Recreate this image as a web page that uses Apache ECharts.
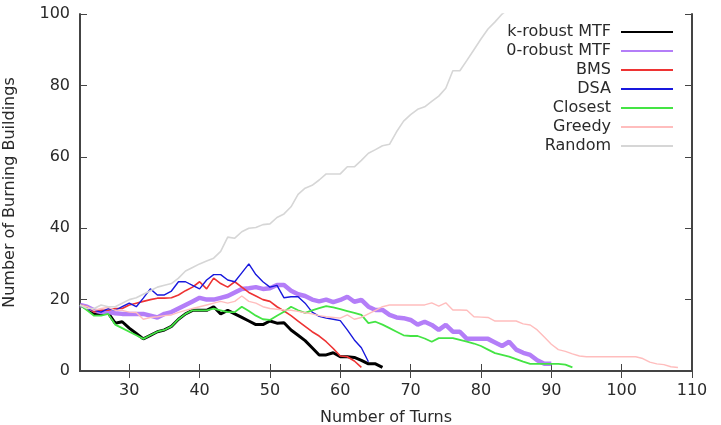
<!DOCTYPE html>
<html>
<head>
<meta charset="utf-8">
<script src="https://cdn.jsdelivr.net/npm/echarts@6/dist/echarts.min.js"></script>
<style>html,body{margin:0;padding:0;background:#fff;}#c{width:721px;height:425px;}</style>
</head>
<body>
<div id="c"></div>
<script>
const startTurn = 23;
const seriesNames = ['k-robust MTF', '0-robust MTF', 'BMS', 'DSA', 'Closest', 'Greedy', 'Random'];
const kRobust = [18.5,17.5,16,16,16.3,13.4,13.8,12,10.5,9,10,11,11.5,12.5,14.5,16,17,17,17,18,16,17,16,15,14,13,13,14,13.4,13.5,11.5,10,8.5,6.5,4.5,4.5,5.1,4,4,3.8,3,2,2,1];
const zeroRobust = [18.5,18,17,16.5,16.5,16.2,16,16,16,16,15.5,15,16,16.5,17.5,18.5,19.5,20.5,20,20,20.5,21,22,23,23.2,23.5,23,23.2,24.1,24.1,22.5,21.5,21,20,19.5,20,19.3,19.9,20.8,19.4,19.9,18,17.1,17.1,15.7,15,14.8,14.3,13,13.8,12.9,11.5,12.9,11,11,9,9,9,9,8,7,8.2,6,5.1,4.5,3,2,2];
const bms = [18.5,18,16.5,17,17,17.5,17.5,18.5,19,19.5,20,20.4,20.4,20.5,21.3,22.5,23.5,25,23,26,24.5,23.5,25,23.5,22,21,20,19.5,18,16.8,15.5,14,12.5,11,9.8,8.2,6.3,4.2,4,2.8,1];
const dsa = [18.5,17.5,17,16.5,17.5,17,18,19,18,20.4,23,21.3,21.3,22.4,25,25,24,23,25.5,27,27,25.5,25,27.5,30,27,25,23.5,24,20.5,20.8,20.8,19,16.5,15.3,14.8,14.5,14.1,11.5,8.7,6.5,2.6];
const closest = [18.5,17,15.5,15.5,16,13,12,11,10,9,10,11,11.5,12.5,14.5,16,17,17,17,17.5,17,16.5,16.5,18,16.8,15.5,14.5,14.3,15.5,16.6,18,17,16.3,17,17.6,18.2,17.8,17.3,16.8,16.3,15.7,13.4,13.8,13,12,11,10,9.8,9.8,9.1,8.2,9.2,9.2,9.2,8.7,8.2,7.7,7,6,5,4.5,4,3.3,2.6,2,2,2,2,2,1.8,1];
const greedy = [18.5,18,17,17.5,17.8,17,17,16.5,16.4,14.5,15,15.2,15.5,15.7,16.4,17,17.5,18,18.5,19,19.5,19,19.5,21,19.5,19,18,17.5,17.3,17.1,17,16.7,16.3,16,15.5,15.2,15,14.8,15.7,14.5,15,16,17,18,18.5,18.5,18.5,18.5,18.5,18.5,19.1,18.2,19.1,17.1,17.1,17,15.2,15.1,15,14,14,14,14,13.2,12.9,11.5,9.5,7.5,6,5.5,4.8,4.2,4,4,4,4,4,4,4,4,3.5,2.5,2,1.8,1.2,1];
const random = [18.5,17.5,17.5,18.5,18,18,19,20,20.5,21.5,22.5,23.5,24,24.5,26,28,29,30,30.8,31.6,33.5,37.5,37.2,39,40,40.2,41,41.2,43,44,46,49.5,51.2,52,53.5,55.2,55.2,55.2,57.2,57.2,59,61,62,63.1,63.5,67,70,71.8,73.3,74,75.5,77,79.2,84.1,84.1,87,90,93,95.8,97.8,100,101.5];
const xTicks = [30,40,50,60,70,80,90,100,110];
const yTicks = [0,20,40,60,80,100];

const allValues = [kRobust, zeroRobust, bms, dsa, closest, greedy, random];
const colors = ['#000000', '#b47ef8', '#ee3333', '#1818dd', '#44e444', '#ffbdbd', '#d6d6d6'];
const widths = [3, 4.5, 1.6, 1.4, 1.8, 1.4, 1.6];

const FONT = 'DejaVu Sans';
const TXT = '#2a2a2a';
const AX = '#444';

function pairs(arr) { return arr.map((v, i) => [startTurn + i, v]); }

const series = seriesNames.map((name, i) => ({
  name: name,
  type: 'line',
  data: pairs(allValues[i]),
  symbol: 'none',
  showSymbol: false,
  clip: true,
  lineStyle: { color: colors[i], width: widths[i] },
  itemStyle: { color: colors[i] },
  z: 2 + i
}));

const chart = echarts.init(document.getElementById('c'), null, { renderer: 'canvas' });
chart.setOption({
  animation: false,
  backgroundColor: '#fff',
  textStyle: { fontFamily: FONT },
  grid: { left: 80, right: 29, top: 14, bottom: 54, containLabel: false, outerBoundsMode: 'none' },
  legend: {
    orient: 'vertical',
    right: 42,
    top: 19,
    align: 'right',
    itemWidth: 52,
    itemHeight: 14,
    itemGap: 3,
    itemStyle: { opacity: 0 },
    textStyle: { fontFamily: FONT, fontSize: 16, color: TXT, lineHeight: 16, padding: [0, 5, 0, 0] },
    data: seriesNames
  },
  xAxis: [{
    type: 'value', min: 23, max: 110,
    name: 'Number of Turns', nameLocation: 'middle', nameGap: 39,
    nameTextStyle: { fontFamily: FONT, fontSize: 16, color: TXT },
    axisLine: { show: true, lineStyle: { color: AX, width: 2 } },
    axisTick: { show: true, inside: true, length: 7, customValues: xTicks, lineStyle: { color: AX, width: 1 } },
    axisLabel: { customValues: xTicks, margin: 12, fontFamily: FONT, fontSize: 16, color: TXT },
    splitLine: { show: false }
  }, {
    type: 'value', min: 23, max: 110, position: 'top',
    axisLine: { show: true, lineStyle: { color: AX, width: 2 } },
    axisTick: { show: true, inside: true, length: 7, customValues: xTicks, lineStyle: { color: AX, width: 1 } },
    axisLabel: { show: false },
    splitLine: { show: false }
  }],
  yAxis: [{
    type: 'value', min: 0, max: 100, interval: 20,
    name: 'Number of Burning Buildings', nameLocation: 'middle', nameGap: 62,
    nameTextStyle: { fontFamily: FONT, fontSize: 16, color: TXT },
    axisLine: { show: true, lineStyle: { color: AX, width: 2 } },
    axisTick: { show: true, inside: true, length: 7, lineStyle: { color: AX, width: 1 } },
    axisLabel: { margin: 10, fontFamily: FONT, fontSize: 16, color: TXT },
    splitLine: { show: false }
  }, {
    type: 'value', min: 0, max: 100, interval: 20, position: 'right',
    axisLine: { show: true, lineStyle: { color: AX, width: 2 } },
    axisTick: { show: true, inside: true, length: 7, lineStyle: { color: AX, width: 1 } },
    axisLabel: { show: false },
    splitLine: { show: false }
  }],
  series: series
});
</script>
</body>
</html>
